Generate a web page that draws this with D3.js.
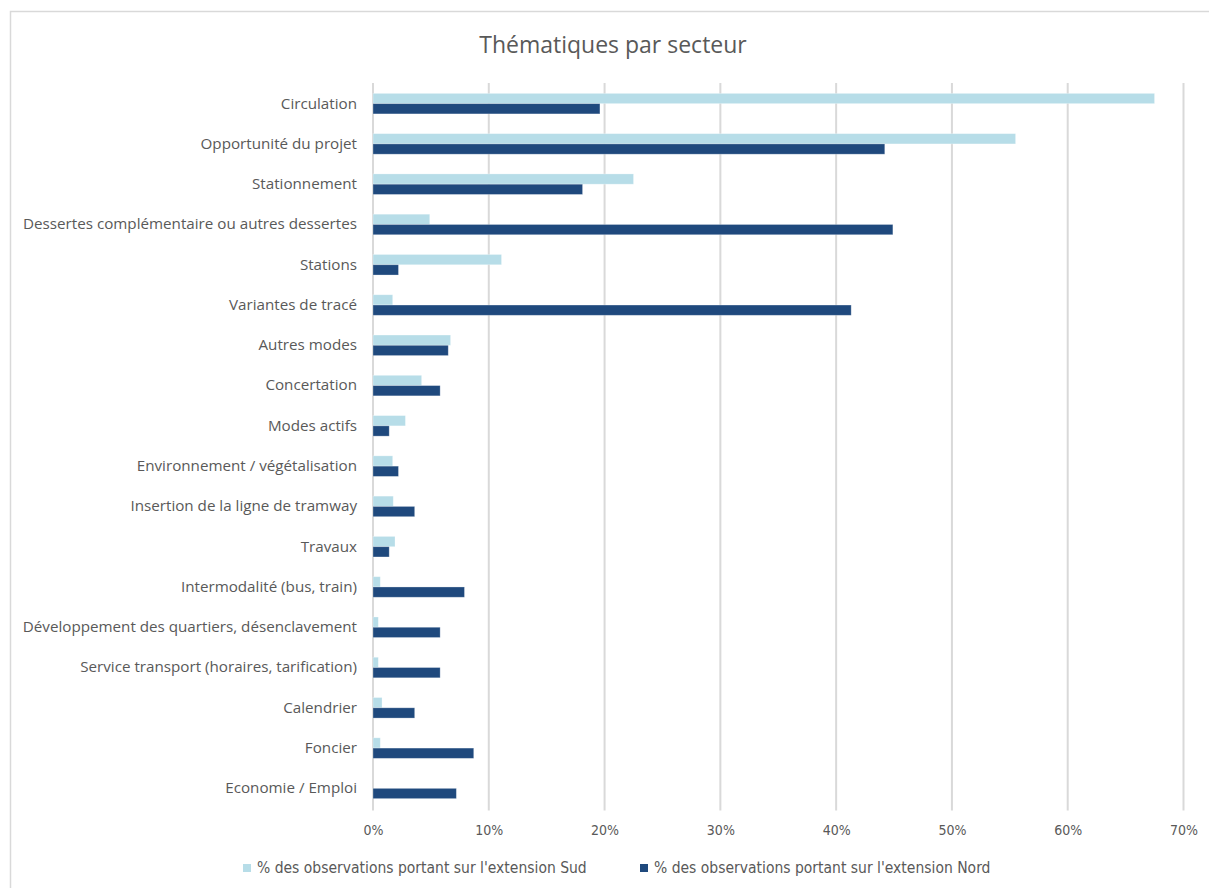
<!DOCTYPE html>
<html>
<head>
<meta charset="utf-8">
<script src="https://cdn.jsdelivr.net/npm/d3@7"></script>
<style>
  html, body { margin: 0; padding: 0; background: #ffffff; }
  svg { display: block; }
</style>
</head>
<body>
<script>
// ---- Data ----
const categories = [
  "Circulation",
  "Opportunité du projet",
  "Stationnement",
  "Dessertes complémentaire ou autres dessertes",
  "Stations",
  "Variantes de tracé",
  "Autres modes",
  "Concertation",
  "Modes actifs",
  "Environnement / végétalisation",
  "Insertion de la ligne de tramway",
  "Travaux",
  "Intermodalité (bus, train)",
  "Développement des quartiers, désenclavement",
  "Service transport (horaires, tarification)",
  "Calendrier",
  "Foncier",
  "Economie / Emploi"
];
const seriesNames = [
  "% des observations portant sur l'extension Sud",
  "% des observations portant sur l'extension Nord"
];
const sudValues  = [0.675, 0.555, 0.225, 0.049, 0.111, 0.017, 0.067, 0.042, 0.028, 0.017, 0.0175, 0.019, 0.0063, 0.0046, 0.0046, 0.0078, 0.0063, 0.0];
const nordValues = [0.196, 0.442, 0.181, 0.449, 0.022, 0.413, 0.065, 0.058, 0.014, 0.022, 0.036, 0.014, 0.079, 0.058, 0.058, 0.036, 0.087, 0.072];
const tickValues = [0, 0.1, 0.2, 0.3, 0.4, 0.5, 0.6, 0.7];
const titleText = "Thématiques par secteur";

const colors = ["#b7dde8", "#1f497d"];

// ---- Layout ----
const W = 1209, H = 888;
const plot = { left: 373, right: 1183.5, top: 83.5, bottom: 808.5 };

const svg = d3.select("body").append("svg")
  .attr("width", W).attr("height", H);

// chart border
svg.append("rect")
  .attr("x", 10.5).attr("y", 11.5)
  .attr("width", 1400).attr("height", 1000)
  .attr("fill", "#ffffff")
  .attr("stroke", "#d9d9d9").attr("stroke-width", 1.5);

// title
svg.append("text")
  .attr("x", 613).attr("y", 53)
  .attr("text-anchor", "middle")
  .attr("font-family", "'Open Sans', 'Noto Sans', sans-serif")
  .attr("font-size", 23)
  .attr("fill", "#595959")
  .text(titleText);

const x = d3.scaleLinear().domain([0, 0.7]).range([plot.left, plot.right]);
const y0 = d3.scaleBand().domain(categories)
  .range([plot.top, plot.bottom])
  .paddingInner(0.49).paddingOuter(0.245);
const y1 = d3.scaleBand().domain([0, 1]).range([0, y0.bandwidth()]).padding(0);

// gridlines
svg.append("g")
  .selectAll("line")
  .data(tickValues)
  .join("line")
  .attr("x1", d => x(d)).attr("x2", d => x(d))
  .attr("y1", plot.top - 0.5).attr("y2", plot.bottom + 2)
  .attr("stroke", "#d9d9d9").attr("stroke-width", 2);

// bars
const rows = categories.map((c, i) => ({ c, vals: [sudValues[i], nordValues[i]] }));
const groups = svg.append("g").selectAll("g")
  .data(rows).join("g")
  .attr("transform", d => `translate(0,${y0(d.c)})`);
groups.selectAll("rect")
  .data(d => d.vals.map((v, k) => ({ v, k })))
  .join("rect")
  .attr("x", x(0))
  .attr("y", d => y1(d.k))
  .attr("width", d => Math.max(0, x(d.v) - x(0)))
  .attr("height", y1.bandwidth())
  .attr("fill", d => colors[d.k])
  .attr("stroke", "#ffffff").attr("stroke-opacity", 0.35).attr("stroke-width", 0.8);

// category axis labels
const yAxis = d3.axisLeft(y0).tickSize(0).tickPadding(16);
const gy = svg.append("g").attr("transform", `translate(${plot.left},0)`).call(yAxis);
gy.select(".domain").remove();
gy.selectAll("text")
  .attr("font-family", "'Open Sans', 'Noto Sans', sans-serif")
  .attr("font-size", 15.2)
  .attr("fill", "#595959");

// value axis labels
const xAxis = d3.axisBottom(x).tickValues(tickValues).tickFormat(d3.format(".0%")).tickSize(0).tickPadding(0);
const gx = svg.append("g").attr("transform", `translate(0,${plot.bottom})`).call(xAxis);
gx.select(".domain").remove();
gx.selectAll("text")
  .attr("y", 22).attr("dy", "0.35em")
  .attr("font-family", "'Liberation Sans Narrow', 'DejaVu Sans Condensed', 'Roboto', sans-serif")
  .attr("font-size", 14)
  .attr("fill", "#595959");

// legend
const legendX = [243, 640];
const legend = svg.append("g").selectAll("g")
  .data(seriesNames).join("g")
  .attr("transform", (d, i) => `translate(${legendX[i]},868)`);
legend.append("rect")
  .attr("x", 0).attr("y", -4).attr("width", 8).attr("height", 8)
  .attr("fill", (d, i) => colors[i]);
legend.append("text")
  .attr("x", 14).attr("dy", "0.35em")
  .attr("font-family", "'Liberation Sans Narrow', 'DejaVu Sans Condensed', 'Roboto', sans-serif")
  .attr("font-size", 15.5)
  .attr("fill", "#595959")
  .text(d => d);
</script>
</body>
</html>
